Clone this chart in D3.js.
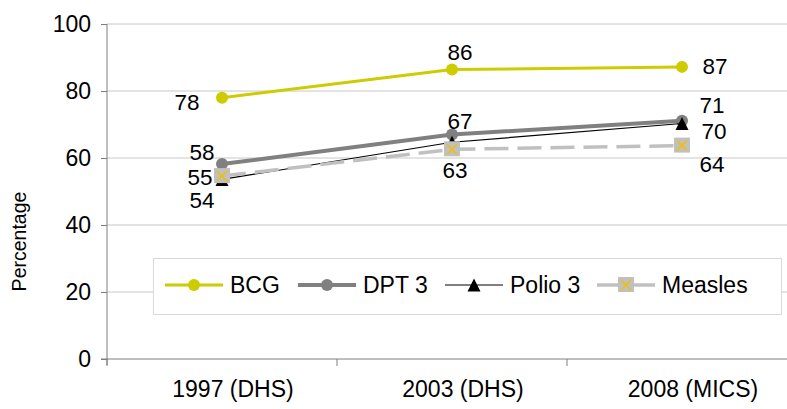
<!DOCTYPE html>
<html><head><meta charset="utf-8">
<script src="https://cdn.jsdelivr.net/npm/d3@7"></script>
<style>
html,body{margin:0;padding:0;background:#fff;}
svg{display:block;font-family:"Liberation Sans",Arial,sans-serif;}
</style></head>
<body><div id="chart"></div>
<script>
const categories = ["1997 (DHS)", "2003 (DHS)", "2008 (MICS)"];
const bcg = [78, 86.4, 87.2];
const dpt3 = [58.2, 67, 71.1];
const polio3 = [53.6, 64.7, 70.3];
const measles = [54.6, 62.6, 63.7];
const yTicks = [0, 20, 40, 60, 80, 100];
const seriesNames = ["BCG", "DPT 3", "Polio 3", "Measles"];

const W = 787, H = 409;
const plot = {left: 107, top: 24, bottom: 359, step: 230};
const svg = d3.select("#chart").append("svg").attr("width", W).attr("height", H);

const x = d3.scaleBand().domain(categories)
  .range([plot.left, plot.left + plot.step * categories.length]).padding(0);
const y = d3.scaleLinear().domain([0, 100]).range([plot.bottom, plot.top]);
const cx = c => x(c) + x.bandwidth() / 2;

// gridlines
svg.append("g").selectAll("line").data(yTicks.filter(t => t > 0)).join("line")
  .attr("x1", plot.left).attr("x2", W).attr("y1", d => y(d)).attr("y2", d => y(d))
  .attr("stroke", "#c8c8c8").attr("stroke-width", 1);

// y axis
const yAxis = svg.append("g").attr("transform", `translate(${plot.left},0)`)
  .call(d3.axisLeft(y).tickValues(yTicks).tickSize(6).tickPadding(10));
yAxis.select(".domain").attr("stroke", "#7f7f7f").attr("d", `M0,${y(100)}V${plot.bottom + 6}`);
yAxis.selectAll(".tick line").attr("stroke", "#7f7f7f");
yAxis.selectAll(".tick text").attr("font-size", 23).attr("fill", "#000")
  .attr("font-family", "'Liberation Sans',Arial,sans-serif");

// x axis
const xAxis = svg.append("g").attr("transform", `translate(0,${plot.bottom})`)
  .call(d3.axisBottom(x).tickSize(0).tickPadding(22));
xAxis.select(".domain").attr("stroke", "#7f7f7f").attr("d", `M${plot.left - 6},0H${W}`);
xAxis.selectAll(".tick text").attr("font-size", 23).attr("fill", "#000").attr("dx", 11)
  .attr("font-family", "'Liberation Sans',Arial,sans-serif");
svg.append("g").selectAll("line").data(categories).join("line")
  .attr("x1", d => x(d)).attr("x2", d => x(d))
  .attr("y1", plot.bottom).attr("y2", plot.bottom + 7)
  .attr("stroke", "#7f7f7f");

// y title
svg.append("text").attr("transform", `translate(19,${(plot.top + plot.bottom) / 2 + 50}) rotate(-90)`)
  .attr("text-anchor", "middle").attr("dominant-baseline", "central")
  .attr("font-size", 19.5).text("Percentage");

const line = d3.line().x((d, i) => cx(categories[i])).y(d => y(d));

const styles = [
  {color: "#cccc00", width: 3, dash: null},
  {color: "#808080", width: 4, dash: null},
  {color: "#000000", width: 1.2, dash: null},
  {color: "#c0c0c0", width: 3.5, dash: "24,9"}
];
const allSeries = [bcg, dpt3, polio3, measles];

// label offsets [dx, dy] per series per point (null = hidden)
const labelOffsets = [
  [[-35, 5], [8, -17], [33, 0]],
  [[-20, -12], [8, -13], [30, -15]],
  [[-20, 21], null, [32, 8]],
  [[-22, 1], [3, 21], [30, 19]]
];

const triPath = "M0,-6.5L6.5,6.5L-6.5,6.5Z";
function marker(g, s, px, py) {
  if (s === 0 || s === 1) {
    g.append("circle").attr("cx", px).attr("cy", py).attr("r", 6)
      .attr("fill", styles[s].color);
  } else if (s === 2) {
    g.append("path").attr("d", triPath).attr("transform", `translate(${px},${py})`).attr("fill", "#000");
  } else {
    g.append("rect").attr("x", px - 8).attr("y", py - 8).attr("width", 16).attr("height", 15)
      .attr("fill", "#c0c0c0");
    g.append("path").attr("d", `M${px-5},${py-5}L${px+5},${py+5}M${px+5},${py-5}L${px-5},${py+5}`)
      .attr("stroke", "#f0c000").attr("stroke-width", 1.5);
  }
}

allSeries.forEach((vals, s) => {
  const g = svg.append("g");
  g.append("path").datum(vals).attr("d", line).attr("fill", "none")
    .attr("stroke", styles[s].color).attr("stroke-width", styles[s].width)
    .attr("stroke-dasharray", styles[s].dash);
  vals.forEach((v, i) => marker(g, s, cx(categories[i]), y(v)));
});

// data labels
allSeries.forEach((vals, s) => {
  vals.forEach((v, i) => {
    const off = labelOffsets[s][i];
    if (!off) return;
    svg.append("text").attr("x", cx(categories[i]) + off[0]).attr("y", y(v) + off[1])
      .attr("text-anchor", "middle").attr("dominant-baseline", "central")
      .attr("font-size", 22.5).attr("fill", "#000").text(Math.round(v));
  });
});

// legend
const lg = svg.append("g");
lg.append("rect").attr("x", 153.5).attr("y", 258.5).attr("width", 628).attr("height", 56)
  .attr("fill", "#fff").attr("stroke", "#d9d9d9").attr("stroke-width", 1);
const legendX = [165, 298, 445, 597];
const ly = 285;
seriesNames.forEach((name, s) => {
  const lx = legendX[s];
  lg.append("line").attr("x1", lx).attr("x2", lx + 58).attr("y1", ly).attr("y2", ly)
    .attr("stroke", s === 2 ? "#808080" : styles[s].color)
    .attr("stroke-width", s === 2 ? 2 : styles[s].width);
  marker(lg, s, lx + 29, ly);
  lg.append("text").attr("x", lx + 65).attr("y", ly).attr("dominant-baseline", "central")
    .attr("font-size", 23).attr("fill", "#000").text(name);
});
</script></body></html>
